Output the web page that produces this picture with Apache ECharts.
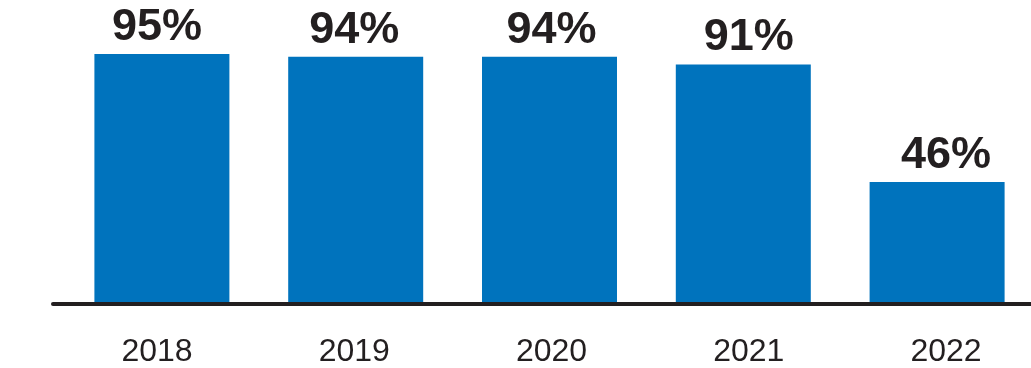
<!DOCTYPE html>
<html>
<head>
<meta charset="utf-8">
<script src="https://cdn.jsdelivr.net/npm/echarts@6/dist/echarts.min.js"></script>
<style>
html,body{margin:0;padding:0;background:#fff;overflow:hidden;width:1031px;height:368px;}
#c{width:1034px;height:368px;}
</style>
</head>
<body>
<div id="c"></div>
<script>
const categories = ['2018', '2019', '2020', '2021', '2022'];
const values = [95, 94, 94, 91, 46];
const valueLabels = ['95%', '94%', '94%', '91%', '46%'];

const FONT = 'Liberation Sans, Arial, sans-serif';
const chart = echarts.init(document.getElementById('c'), null, {renderer: 'canvas'});
chart.setOption({
  animation: false,
  backgroundColor: '#ffffff',
  grid: [
    {left: 65, right: 0, top: 41, bottom: 66},
    {left: 53, right: 0, top: 41, bottom: 64},
    {left: 157, right: 88, top: 41, bottom: 66}
  ],
  xAxis: [
    {
      type: 'category', gridIndex: 0, data: categories,
      axisLine: {show: false}, axisTick: {show: false}, axisLabel: {show: false}
    },
    {
      type: 'category', gridIndex: 1, data: categories,
      axisLine: {show: true, lineStyle: {color: '#231f20', width: 4}},
      axisTick: {show: false}, axisLabel: {show: false}
    },
    {
      type: 'category', gridIndex: 2, data: categories, boundaryGap: false,
      axisLine: {show: false}, axisTick: {show: false},
      axisLabel: {color: '#231f20', fontFamily: FONT, fontSize: 32, margin: 34}
    }
  ],
  yAxis: [
    {type: 'value', gridIndex: 0, min: 0, max: 100, show: false, splitLine: {show: false}},
    {type: 'value', gridIndex: 1, min: 0, max: 100, show: false, splitLine: {show: false}},
    {type: 'value', gridIndex: 2, min: 0, max: 100, show: false, splitLine: {show: false}}
  ],
  series: [
    {
      type: 'bar', xAxisIndex: 0, yAxisIndex: 0,
      data: values, barWidth: 135,
      itemStyle: {color: '#0073bd'}
    },
    {
      type: 'bar', xAxisIndex: 2, yAxisIndex: 2,
      data: values, barWidth: 1, silent: true,
      itemStyle: {color: 'rgba(0,0,0,0)'},
      label: {
        show: true, position: 'top', distance: 4,
        formatter: p => valueLabels[p.dataIndex],
        color: '#231f20', fontFamily: FONT, fontWeight: 'bold', fontSize: 45
      }
    }
  ]
});
</script>
</body>
</html>
